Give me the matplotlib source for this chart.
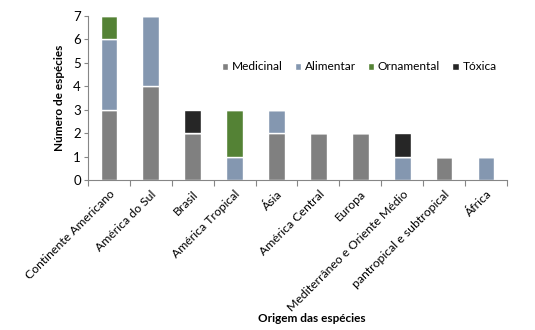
import matplotlib.pyplot as plt
import numpy as np

# dados
origens = ['Continente Americano', 'América do Sul', 'Brasil', 'América Tropical', 'Ásia',
           'América Central', 'Europa', 'Mediterrâneo e Oriente Médio',
           'pantropical e subtropical', 'África']
medicinal = [3, 4, 2, 0, 2, 2, 2, 0, 1, 0]
alimentar = [3, 3, 0, 1, 1, 0, 0, 1, 0, 1]
ornamental = [1, 0, 0, 2, 0, 0, 0, 0, 0, 0]
toxica = [0, 0, 1, 0, 0, 0, 0, 1, 0, 0]

series = [('Medicinal', medicinal, '#808080'),
          ('Alimentar', alimentar, '#8497b0'),
          ('Ornamental', ornamental, '#548235'),
          ('Tóxica', toxica, '#262626')]

plt.rcParams['font.family'] = ['Lato', 'DejaVu Sans']

fig = plt.figure(figsize=(5.35, 3.3), dpi=100)
ax = fig.add_axes([0.1645, 0.4545, 0.783, 0.497])

x = np.arange(len(origens))
base = np.zeros(len(origens))
for nome, vals, cor in series:
    vals = np.array(vals, dtype=float)
    ax.bar(x, vals, width=0.4, bottom=base, color=cor, edgecolor='white',
           linewidth=1, label=nome)
    base += vals

ax.set_xlim(-0.5, len(origens) - 0.5)
ax.set_ylim(0, 7)
ax.set_yticks(range(8))
ax.tick_params(axis='y', labelsize=9.5, length=3, color='#868686', pad=2)

# ticks do eixo x nas divisas entre categorias
ax.set_xticks(np.arange(-0.5, len(origens), 1.0))
ax.set_xticklabels([])
ax.set_xticks(x, minor=True)
ax.set_xticklabels(origens, minor=True, rotation=45, ha='right', rotation_mode='anchor', fontsize=8.8)
ax.tick_params(axis='x', which='major', length=4, color='#868686')
ax.tick_params(axis='x', which='minor', length=0, pad=6)

for s in ['top', 'right']:
    ax.spines[s].set_visible(False)
for s in ['left', 'bottom']:
    ax.spines[s].set_color('#868686')

ax.set_ylabel('Número de espécies', fontsize=8.5, fontweight='bold', labelpad=6)
fig.text(312 / 535, 1 - 318 / 330, 'Origem das espécies', fontsize=8.5, fontweight='bold',
         ha='center', va='center')

ax.legend(loc='center', bbox_to_anchor=(0.647, 0.69), ncol=4, frameon=False, fontsize=8.6,
          handlelength=0.55, handleheight=0.55, handletextpad=0.3, columnspacing=1.0)

fig.savefig('out.png', dpi=100)
